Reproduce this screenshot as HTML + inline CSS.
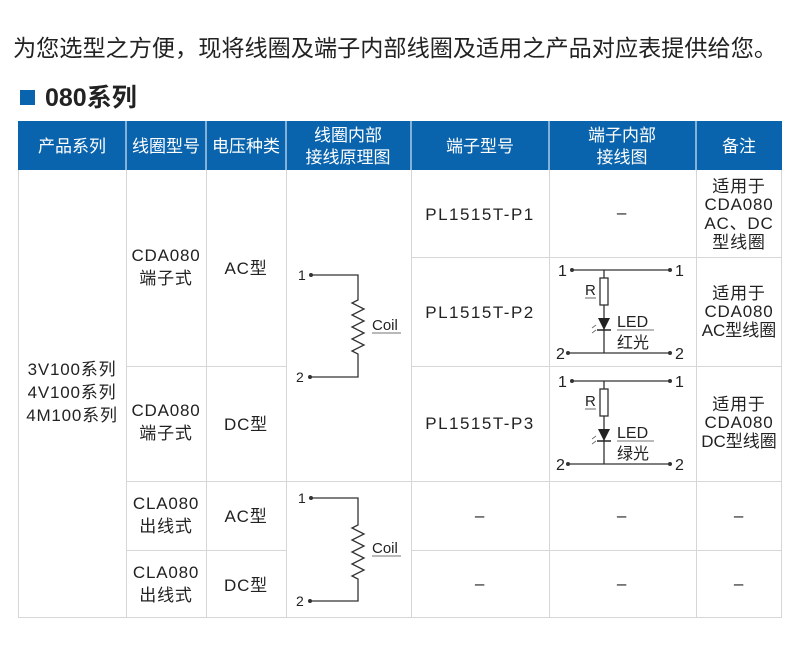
<!DOCTYPE html>
<html><head><meta charset="utf-8"><style>
html,body{margin:0;padding:0;background:#fff;}
svg{display:block;}
text{font-family:"Liberation Sans","Noto Sans CJK SC",sans-serif;fill:#222;}
</style></head><body>
<svg width="800" height="649" viewBox="0 0 800 649" xmlns="http://www.w3.org/2000/svg">
<text x="13" y="56" font-size="23" textLength="764" lengthAdjust="spacingAndGlyphs">为您选型之方便，现将线圈及端子内部线圈及适用之产品对应表提供给您。</text>
<rect x="20" y="90" width="15" height="15" fill="#0a64ad"/>
<text x="45" y="106" font-size="25" font-weight="bold" fill="#111">080系列</text>
<rect x="18" y="121" width="764" height="49" fill="#0a64ad"/>
<g stroke="#fff" stroke-width="1">
<line x1="126" y1="121" x2="126" y2="170"/><line x1="206" y1="121" x2="206" y2="170"/>
<line x1="286" y1="121" x2="286" y2="170"/><line x1="411" y1="121" x2="411" y2="170"/>
<line x1="549" y1="121" x2="549" y2="170"/><line x1="696" y1="121" x2="696" y2="170"/>
</g>
<g font-size="17" text-anchor="middle">
<text x="72" y="152" style="fill:#fff">产品系列</text>
<text x="166" y="152" style="fill:#fff">线圈型号</text>
<text x="246" y="152" style="fill:#fff">电压种类</text>
<text x="348" y="141" style="fill:#fff">线圈内部</text>
<text x="348" y="163" style="fill:#fff">接线原理图</text>
<text x="480" y="152" style="fill:#fff">端子型号</text>
<text x="622" y="141" style="fill:#fff">端子内部</text>
<text x="622" y="163" style="fill:#fff">接线图</text>
<text x="739" y="152" style="fill:#fff">备注</text>
</g>
<g stroke="#d6d6d6" stroke-width="1" fill="none">
<line x1="18.5" y1="170" x2="18.5" y2="618"/>
<line x1="126.5" y1="170" x2="126.5" y2="618"/>
<line x1="206.5" y1="170" x2="206.5" y2="618"/>
<line x1="286.5" y1="170" x2="286.5" y2="618"/>
<line x1="411.5" y1="170" x2="411.5" y2="618"/>
<line x1="549.5" y1="170" x2="549.5" y2="618"/>
<line x1="696.5" y1="170" x2="696.5" y2="618"/>
<line x1="781.5" y1="170" x2="781.5" y2="618"/>
<line x1="411" y1="257.5" x2="782" y2="257.5"/>
<line x1="126" y1="366.5" x2="286" y2="366.5"/>
<line x1="411" y1="366.5" x2="782" y2="366.5"/>
<line x1="126" y1="481.5" x2="782" y2="481.5"/>
<line x1="126" y1="550.5" x2="286" y2="550.5"/>
<line x1="411" y1="550.5" x2="782" y2="550.5"/>
<line x1="18" y1="617.5" x2="782" y2="617.5"/>
</g>
<g font-size="17" text-anchor="middle" letter-spacing="0.8">
<text x="72" y="375">3V100系列</text>
<text x="72" y="398">4V100系列</text>
<text x="72" y="421">4M100系列</text>
<text x="166" y="261">CDA080</text><text x="166" y="284">端子式</text>
<text x="246" y="274">AC型</text>
<text x="166" y="416">CDA080</text><text x="166" y="439">端子式</text>
<text x="246" y="430">DC型</text>
<text x="166" y="509">CLA080</text><text x="166" y="532">出线式</text>
<text x="246" y="522">AC型</text>
<text x="166" y="578">CLA080</text><text x="166" y="601">出线式</text>
<text x="246" y="591">DC型</text>
<text x="480" y="220" letter-spacing="1.5">PL1515T-P1</text>
<text x="480" y="318" letter-spacing="1.5">PL1515T-P2</text>
<text x="480" y="429" letter-spacing="1.5">PL1515T-P3</text>
<text x="622" y="218">–</text>
<text x="480" y="521">–</text><text x="622" y="521">–</text><text x="739" y="521">–</text>
<text x="480" y="589">–</text><text x="622" y="589">–</text><text x="739" y="589">–</text>
<text x="739" y="192">适用于</text><text x="739" y="210">CDA080</text>
<text x="739" y="229">AC、DC</text><text x="739" y="248">型线圈</text>
<text x="739" y="299">适用于</text><text x="739" y="317">CDA080</text><text x="739" y="336" letter-spacing="0">AC型线圈</text>
<text x="739" y="410">适用于</text><text x="739" y="428">CDA080</text><text x="739" y="447" letter-spacing="0">DC型线圈</text>
</g>
<g stroke="#333" stroke-width="1.3" fill="none">
<polyline points="311,275 358,275 358,300 352,303 364,309 352,315 364,321 352,327 364,333 352,339 364,345 352,351 358,354 358,377 310,377"/>
<polyline points="311,498 358,498 358,525 352,528 364,534 352,540 364,546 352,552 364,558 352,564 364,570 352,576 358,579 358,601 310,601"/>
</g>
<g fill="#333"><circle cx="311" cy="275" r="2"/><circle cx="310" cy="377" r="2"/><circle cx="311" cy="498" r="2"/><circle cx="310" cy="601" r="2"/></g>
<g font-size="14" fill="#444">
<text x="298" y="280">1</text><text x="296" y="382">2</text>
<text x="298" y="503">1</text><text x="296" y="606">2</text>
<text x="372" y="330" font-size="15">Coil</text><text x="372" y="553" font-size="15">Coil</text>
</g>
<g stroke="#444" stroke-width="0.8"><line x1="372" y1="333" x2="401" y2="333"/><line x1="372" y1="556" x2="401" y2="556"/></g>
<g>
<g stroke="#333" stroke-width="1.3" fill="none">
<line x1="572" y1="270" x2="670" y2="270"/>
<line x1="604" y1="270" x2="604" y2="353"/>
<line x1="568" y1="353" x2="670" y2="353"/>
<rect x="600" y="278" width="8" height="27" fill="#fff"/>
</g>
<polygon points="598,318 610,318 604,330" fill="#222"/>
<line x1="597" y1="330" x2="611" y2="330" stroke="#222" stroke-width="1.5"/>
<g stroke="#666" stroke-width="0.8"><line x1="592" y1="328" x2="596" y2="325"/><line x1="592" y1="333" x2="596" y2="330"/></g>
<g fill="#333"><circle cx="572" cy="270" r="2"/><circle cx="670" cy="270" r="2"/><circle cx="568" cy="353" r="2"/><circle cx="670" cy="353" r="2"/></g>
<g font-size="16"><text x="558" y="276">1</text><text x="675" y="276">1</text><text x="556" y="359">2</text><text x="675" y="359">2</text>
<text x="585" y="295" font-size="15">R</text><text x="617" y="327">LED</text><text x="617" y="348">红光</text></g>
<g stroke="#444" stroke-width="0.8"><line x1="585" y1="298" x2="596" y2="298"/><line x1="617" y1="330" x2="654" y2="330"/></g>
</g>
<g transform="translate(0,111)">
<g stroke="#333" stroke-width="1.3" fill="none">
<line x1="572" y1="270" x2="670" y2="270"/>
<line x1="604" y1="270" x2="604" y2="353"/>
<line x1="568" y1="353" x2="670" y2="353"/>
<rect x="600" y="278" width="8" height="27" fill="#fff"/>
</g>
<polygon points="598,318 610,318 604,330" fill="#222"/>
<line x1="597" y1="330" x2="611" y2="330" stroke="#222" stroke-width="1.5"/>
<g stroke="#666" stroke-width="0.8"><line x1="592" y1="328" x2="596" y2="325"/><line x1="592" y1="333" x2="596" y2="330"/></g>
<g fill="#333"><circle cx="572" cy="270" r="2"/><circle cx="670" cy="270" r="2"/><circle cx="568" cy="353" r="2"/><circle cx="670" cy="353" r="2"/></g>
<g font-size="16"><text x="558" y="276">1</text><text x="675" y="276">1</text><text x="556" y="359">2</text><text x="675" y="359">2</text>
<text x="585" y="295" font-size="15">R</text><text x="617" y="327">LED</text><text x="617" y="348">绿光</text></g>
<g stroke="#444" stroke-width="0.8"><line x1="585" y1="298" x2="596" y2="298"/><line x1="617" y1="330" x2="654" y2="330"/></g>
</g>
</svg>
</body></html>
